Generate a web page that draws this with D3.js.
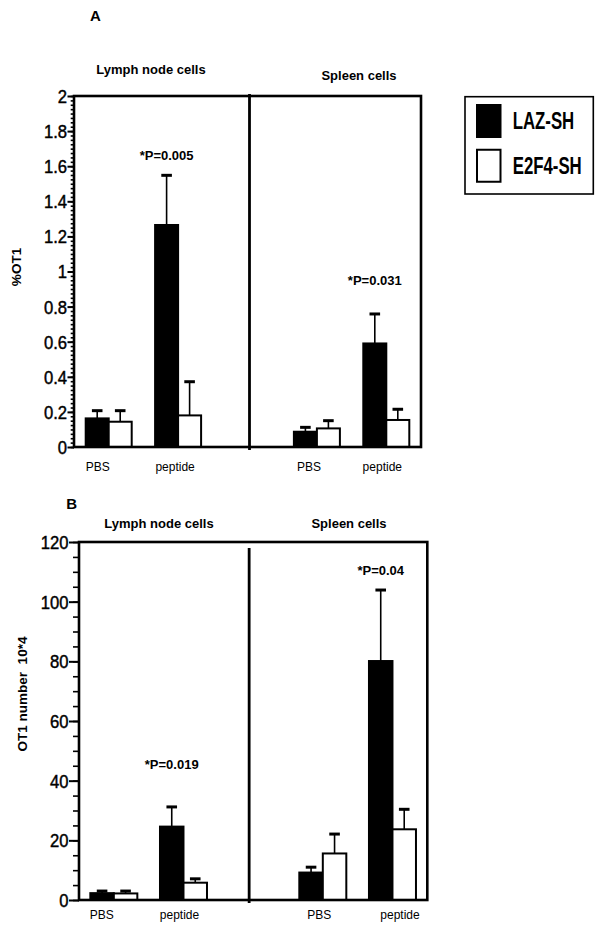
<!DOCTYPE html>
<html>
<head>
<meta charset="utf-8">
<script src="https://cdn.jsdelivr.net/npm/d3@7"></script>
<style>
  html, body { margin: 0; padding: 0; background: #fff; }
  svg { display: block; }
  text { font-family: "Liberation Sans", Arial, sans-serif; fill: #000; }
</style>
</head>
<body>
<svg id="chart" width="601" height="933"></svg>
<script>
// ---------- DATA ----------
const tissues = ["Lymph node cells", "Spleen cells"];
const treatments = ["PBS", "peptide"];
const series = ["LAZ-SH", "E2F4-SH"];
// order of values: [Lymph PBS, Lymph peptide, Spleen PBS, Spleen peptide]

// Panel A: %OT1
const pctLAZ     = [0.163, 1.265, 0.087, 0.59];
const pctLAZErr  = [0.044, 0.283, 0.025, 0.168];
const pctE2F4    = [0.144, 0.18, 0.106, 0.154];
const pctE2F4Err = [0.063, 0.192, 0.044, 0.061];
const pctTicks   = [0, 0.2, 0.4, 0.6, 0.8, 1, 1.2, 1.4, 1.6, 1.8, 2];
const pctPText   = ["*P=0.005", "*P=0.031"];
const pctPAt     = [1.66, 0.95];

// Panel B: OT1 number 10*4
const numLAZ     = [2.3, 24.6, 9.2, 80.1];
const numLAZErr  = [0.7, 6.6, 1.8, 23.8];
const numE2F4    = [2.2, 5.8, 15.6, 23.7];
const numE2F4Err = [0.8, 1.3, 6.5, 6.7];
const numTicks   = [0, 20, 40, 60, 80, 100, 120];
const numPText   = ["*P=0.019", "*P=0.04"];
const numPAt     = [45.6, 110.4];

// ---------- LAYOUT ----------
const panels = [
  { letter: "A", yMax: 2, ticks: pctTicks, minorStep: 0.025, yTitle: "%OT1",
    laz: pctLAZ, lazErr: pctLAZErr, e2f: pctE2F4, e2fErr: pctE2F4Err,
    pText: pctPText, pAt: pctPAt,
    L: { x0: 74, x1: 421, yb: 447, yt: 96, letterXY: [95.3, 21], titleXY: [[151, 74], [359, 80]],
         yTitleXY: [16, 267], divOff: 2, divY: [94, 450], major: 6.5, minor: 3.3,
         xLabY: 471, xLabOff: [-11, -3, -8, -4], barW: 23 } },
  { letter: "B", yMax: 120, ticks: numTicks, minorStep: 5, yTitle: "OT1 number  10*4",
    laz: numLAZ, lazErr: numLAZErr, e2f: numE2F4, e2fErr: numE2F4Err,
    pText: numPText, pAt: numPAt,
    L: { x0: 79, x1: 427.3, yb: 900, yt: 542, letterXY: [71.7, 508.6], titleXY: [[159, 528], [349, 528]],
         yTitleXY: [22, 694], divOff: -4, divY: [548, 903], major: 10, minor: 6,
         xLabY: 919, xLabOff: [-12, -4, -3.5, 7.5], barW: 23.5 } }
];

const svg = d3.select("#chart");
svg.append("rect").attr("width", 601).attr("height", 933).attr("fill", "#fff");

const slots = ["LN_PBS", "LN_peptide", "gap", "SP_PBS", "SP_peptide"];
const dataSlots = ["LN_PBS", "LN_peptide", "SP_PBS", "SP_peptide"];

panels.forEach(p => {
  const L = p.L;
  const g = svg.append("g");
  const x = d3.scaleBand().domain(slots).range([L.x0, L.x1]).paddingInner(0).paddingOuter(0);
  const y = d3.scaleLinear().domain([0, p.yMax]).range([L.yb, L.yt]);
  const sub = d3.scaleBand().domain(series).range([-L.barW, L.barW]);
  const cx = k => x(dataSlots[k]) + x.bandwidth() / 2;

  // letter
  g.append("text").attr("x", L.letterXY[0]).attr("y", L.letterXY[1])
    .attr("text-anchor", "middle").attr("font-size", 15).attr("font-weight", "bold").text(p.letter);

  // tissue titles
  tissues.forEach((t, i) => {
    g.append("text").attr("x", L.titleXY[i][0]).attr("y", L.titleXY[i][1])
      .attr("text-anchor", "middle").attr("font-size", 13).attr("font-weight", "bold").text(t);
  });

  // y title
  g.append("text")
    .attr("transform", `translate(${L.yTitleXY[0] + 4.6},${L.yTitleXY[1]}) rotate(-90)`)
    .attr("text-anchor", "middle").attr("font-size", 13.5).attr("font-weight", "bold")
    .style("white-space", "pre").text(p.yTitle);

  // bars
  const rows = [];
  dataSlots.forEach((s, k) => {
    rows.push({ k, s: "LAZ-SH", v: p.laz[k], e: p.lazErr[k] });
    rows.push({ k, s: "E2F4-SH", v: p.e2f[k], e: p.e2fErr[k] });
  });
  rows.forEach(r => {
    const bx = cx(r.k) + sub(r.s) + sub.bandwidth() / 2;
    g.append("line").attr("x1", bx).attr("x2", bx).attr("y1", y(r.v)).attr("y2", y(r.v + r.e))
      .attr("stroke", "#000").attr("stroke-width", 1.6);
    g.append("line").attr("x1", bx - 5.3).attr("x2", bx + 5.3).attr("y1", y(r.v + r.e)).attr("y2", y(r.v + r.e))
      .attr("stroke", "#000").attr("stroke-width", 3);
  });
  rows.forEach(r => {
    g.append("rect")
      .attr("x", cx(r.k) + sub(r.s)).attr("y", y(r.v))
      .attr("width", sub.bandwidth()).attr("height", y(0) - y(r.v))
      .attr("fill", r.s === "LAZ-SH" ? "#000" : "#fff")
      .attr("stroke", "#000").attr("stroke-width", 2);
  });

  // p-value labels, above LAZ-SH peptide bars
  [1, 3].forEach((k, i) => {
    g.append("text").attr("x", cx(k) + sub("LAZ-SH") + sub.bandwidth() / 2)
      .attr("y", y(p.pAt[i]) + 4.6).attr("text-anchor", "middle")
      .attr("font-size", 13).attr("font-weight", "bold").text(p.pText[i]);
  });

  // x labels
  dataSlots.forEach((s, k) => {
    g.append("text").attr("x", cx(k) + L.xLabOff[k]).attr("y", L.xLabY)
      .attr("text-anchor", "middle").attr("font-size", 12).text(treatments[k % 2]);
  });

  // minor ticks
  const minorVals = d3.range(0, p.yMax + p.minorStep / 2, p.minorStep);
  const minorAxis = d3.axisLeft(y).tickValues(minorVals).tickSize(L.minor).tickFormat("");
  const gm = g.append("g").attr("transform", `translate(${L.x0},0)`).call(minorAxis);
  gm.select(".domain").remove();
  gm.selectAll("line").attr("stroke-width", 1.6);

  // major ticks
  const fmt = d => String(+d.toFixed(1));
  const majorAxis = d3.axisLeft(y).tickValues(p.ticks).tickSize(L.major).tickPadding(0.5).tickFormat(fmt);
  const ga = g.append("g").attr("transform", `translate(${L.x0},0)`).call(majorAxis);
  ga.select(".domain").remove();
  ga.selectAll("line").attr("stroke-width", 2);
  ga.selectAll("text").each(function () {
    const t = d3.select(this);
    const tx = +t.attr("x");
    t.attr("x", 0).attr("transform", `translate(${tx},0) scale(0.9,1)`);
  }).attr("font-size", 18.5).attr("font-family", "Liberation Sans, Arial, sans-serif")
    .attr("fill", "#000").attr("dy", "0.35em").attr("stroke", "#000").attr("stroke-width", 0.45);

  // frame
  const frame = g.append("g").attr("stroke", "#000").attr("stroke-width", 2.6).attr("fill", "none");
  frame.append("rect").attr("x", L.x0).attr("y", L.yt).attr("width", L.x1 - L.x0).attr("height", L.yb - L.yt);
  const dx = x("gap") + x.bandwidth() / 2 + L.divOff;
  frame.append("line").attr("x1", dx).attr("x2", dx).attr("y1", L.divY[0]).attr("y2", L.divY[1])
    .attr("stroke-width", 2.8);
});

// ---------- LEGEND ----------
const lg = svg.append("g");
lg.append("rect").attr("x", 465).attr("y", 96.7).attr("width", 128.3).attr("height", 97.3)
  .attr("fill", "#fff").attr("stroke", "#000").attr("stroke-width", 1.6);
const legY = d3.scaleBand().domain(series).range([100.5, 190]);
series.forEach((s, i) => {
  lg.append("rect").attr("x", 477).attr("y", legY(s) + 4.5).attr("width", 23.5).attr("height", 32)
    .attr("fill", i === 0 ? "#000" : "#fff").attr("stroke", "#000").attr("stroke-width", 2);
  lg.append("text").attr("transform", `translate(512.7,${legY(s) + 28.5}) scale(0.73,1)`)
    .attr("font-size", 23).attr("font-weight", "bold").text(s);
});
</script>
</body>
</html>
